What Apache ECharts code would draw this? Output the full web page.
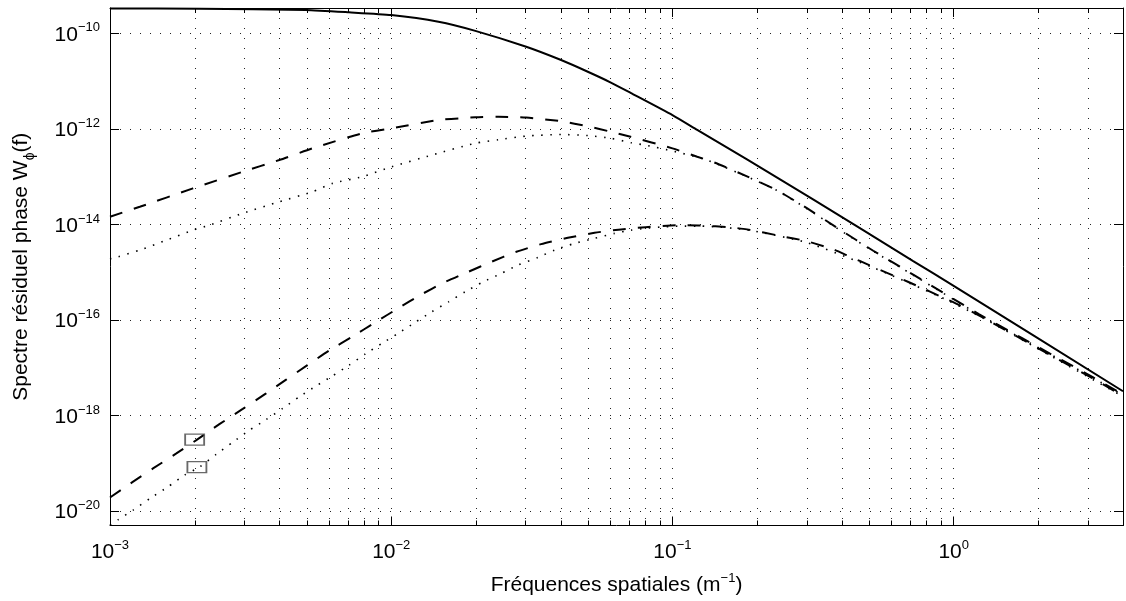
<!DOCTYPE html>
<html>
<head>
<meta charset="utf-8">
<script src="https://cdn.jsdelivr.net/npm/echarts@6/dist/echarts.min.js"></script>
<style>
  html, body { margin: 0; padding: 0; background: #fff; }
  #chart { width: 1126px; height: 601px; }
</style>
</head>
<body>
<div id="chart"></div>
<script>
// abscisses en log10(f), ordonnées en log10(W)
const X_MIN = -3
const X_MAX = Math.log10(4)
const Y_MIN = -20.30
const Y_MAX = -9.47

// spectre de phase (trait plein)
const solidF = [-3.0, -2.681, -2.304, -2.150, -2.0, -1.832, -1.701, -1.520, -1.396, -1.301, -1.219, -1.149, -1.0, -0.912, -0.735, -0.5, -0.144, 0.0, 0.602]
const solidW = [-9.481, -9.485, -9.512, -9.560, -9.617, -9.757, -9.948, -10.281, -10.559, -10.804, -11.03, -11.245, -11.710, -12.02, -12.64, -13.475, -14.767, -15.284, -17.49]

// résidu haut, tirets
const dashHiF = [-3.0, -2.894, -2.705, -2.528, -2.398, -2.280, -2.103, -2.0, -1.832, -1.701, -1.619, -1.520, -1.396, -1.301, -1.219, -1.149, -1.0, -0.912, -0.852, -0.735, -0.628, -0.522, -0.404, -0.286, -0.144, -0.003, 0.091, 0.245, 0.363, 0.493, 0.602]
const dashHiW = [-13.839, -13.630, -13.245, -12.897, -12.652, -12.407, -12.093, -11.989, -11.815, -11.758, -11.746, -11.763, -11.840, -11.947, -12.060, -12.165, -12.407, -12.583, -12.70, -12.994, -13.287, -13.66, -14.11, -14.55, -15.05, -15.55, -15.88, -16.385, -16.770, -17.189, -17.561]

// résidu haut, pointillés
const dotHiF = [-3.0, -2.971, -2.894, -2.799, -2.705, -2.646, -2.528, -2.398, -2.280, -2.209, -2.103, -1.998, -1.856, -1.703, -1.619, -1.520, -1.395, -1.301, -1.218, -1.147, -1.088, -1.0, -0.912, -0.852, -0.735, -0.628, -0.522, -0.404, -0.286, -0.144, -0.003, 0.091, 0.245, 0.363, 0.493, 0.602]
const dotHiW = [-14.72, -14.677, -14.536, -14.327, -14.118, -14.013, -13.768, -13.525, -13.316, -13.140, -13.002, -12.793, -12.548, -12.303, -12.227, -12.150, -12.118, -12.139, -12.198, -12.290, -12.349, -12.464, -12.589, -12.71, -13.00, -13.29, -13.67, -14.12, -14.56, -15.06, -15.56, -15.89, -16.396, -16.78, -17.20, -17.572]

// résidu bas, tirets
const dashLoF = [-3.0, -2.919, -2.847, -2.764, -2.693, -2.611, -2.528, -2.445, -2.375, -2.298, -2.221, -2.139, -2.056, -1.973, -1.897, -1.814, -1.726, -1.643, -1.555, -1.467, -1.372, -1.277, -1.183, -1.095, -0.988, -0.900, -0.794, -0.735, -0.617, -0.522, -0.428, -0.381, -0.287, -0.204, -0.122, -0.050, 0.020, 0.091, 0.245, 0.363, 0.493, 0.602]
const dashLoW = [-19.713, -19.387, -19.106, -18.792, -18.514, -18.18, -17.860, -17.536, -17.253, -16.944, -16.640, -16.351, -16.045, -15.745, -15.478, -15.220, -14.991, -14.78, -14.572, -14.411, -14.280, -14.174, -14.103, -14.058, -14.017, -14.023, -14.061, -14.103, -14.240, -14.35, -14.522, -14.641, -14.886, -15.095, -15.305, -15.499, -15.688, -15.907, -16.410, -16.797, -17.216, -17.593]

// résidu bas, pointillés
const dotLoF = [-3.0, -2.971, -2.918, -2.858, -2.794, -2.735, -2.681, -2.622, -2.564, -2.504, -2.445, -2.386, -2.327, -2.268, -2.209, -2.150, -2.092, -2.033, -1.973, -1.914, -1.856, -1.796, -1.737, -1.673, -1.608, -1.549, -1.478, -1.419, -1.348, -1.277, -1.206, -1.147, -1.088, -1.029, -0.971, -0.900, -0.735, -0.522, -0.286, -0.050, 0.091, 0.245, 0.602]
const dotLoW = [-20.29, -20.178, -19.979, -19.734, -19.491, -19.246, -19.073, -18.810, -18.560, -18.304, -18.085, -17.850, -17.607, -17.383, -17.170, -16.944, -16.710, -16.489, -16.270, -16.045, -15.828, -15.619, -15.409, -15.200, -15.024, -14.850, -14.689, -14.536, -14.396, -14.291, -14.187, -14.118, -14.076, -14.049, -14.034, -14.034, -14.113, -14.379, -14.903, -15.510, -15.917, -16.420, -17.60]

// petits rectangles à f = 2e-3
const boxF = [-2.699, -2.691]
const boxW = [-18.503, -19.079]

// graduations mineures de l'axe log des fréquences
const decades = [-3, -2, -1, 0]
const mults = [2, 3, 4, 5, 6, 7, 8, 9]

const FONT = '"Liberation Sans", Arial, Helvetica, sans-serif'
const minorF = []
decades.forEach((d) => {
  mults.forEach((k) => {
    const v = d + Math.log10(k)
    if (v < X_MAX - 1e-3) minorF.push([v, Y_MIN])
  })
})

function isInt(v) {
  return Math.abs(v - Math.round(v)) < 1e-6
}
function powLabel(v) {
  if (!isInt(v)) return ''
  const n = Math.round(v)
  return '{b|10}{s|' + (n < 0 ? '\u2212' + -n : n) + '}'
}
const powRich = {
  b: { fontFamily: FONT, fontSize: 21, lineHeight: 24, verticalAlign: 'bottom', color: '#000' },
  s: { fontFamily: FONT, fontSize: 13, lineHeight: 13, verticalAlign: 'top', color: '#000' }
}
const gridDots = { color: '#222', width: 1, type: [1, 9] }

function curve(xs, ys, type, width) {
  return {
    type: 'line',
    data: xs.map((x, i) => [x, ys[i]]),
    symbol: 'none',
    smooth: 0.2,
    silent: true,
    z: 4,
    lineStyle: { color: '#000', width: width, type: type }
  }
}

function renderMinor(params, api) {
  const cs = params.coordSys
  const x = Math.round(api.coord([api.value(0), Y_MIN])[0]) + 0.5
  const top = cs.y
  const bot = cs.y + cs.height
  return {
    type: 'group',
    children: [
      { type: 'line', shape: { x1: x, y1: top, x2: x, y2: bot }, style: { stroke: '#222', lineWidth: 1, lineDash: [1, 9] } },
      { type: 'line', shape: { x1: x, y1: top, x2: x, y2: top + 5 }, style: { stroke: '#000', lineWidth: 1 } },
      { type: 'line', shape: { x1: x, y1: bot - 5, x2: x, y2: bot }, style: { stroke: '#000', lineWidth: 1 } }
    ]
  }
}

const chart = echarts.init(document.getElementById('chart'))
const xBase = {
  type: 'value',
  min: X_MIN,
  max: X_MAX,
  splitNumber: 4,
  axisLine: { onZero: false, lineStyle: { color: '#000', width: 1 } },
  axisTick: { inside: true, length: 9, lineStyle: { color: '#000' } }
}
const yBase = {
  type: 'value',
  min: Y_MIN,
  max: Y_MAX,
  splitNumber: 5,
  axisLine: { onZero: false, lineStyle: { color: '#000', width: 1 } },
  axisTick: { inside: true, length: 9, lineStyle: { color: '#000' } }
}

const option = {
  animation: false,
  backgroundColor: '#fff',
  grid: { left: 110, top: 8, width: 1017.6, height: 517.5 },
  xAxis: [
    Object.assign({}, xBase, {
      position: 'bottom',
      name: '{n|Fréquences spatiales (m}{s|\u22121}{n|)}',
      nameLocation: 'middle',
      nameGap: 46,
      nameTextStyle: {
        rich: {
          n: { fontFamily: FONT, fontSize: 21, lineHeight: 24, verticalAlign: 'bottom', color: '#000' },
          s: { fontFamily: FONT, fontSize: 13, lineHeight: 13, verticalAlign: 'top', color: '#000' }
        }
      },
      axisLabel: { margin: 13, formatter: powLabel, rich: powRich },
      splitLine: { show: true, lineStyle: gridDots }
    }),
    Object.assign({}, xBase, {
      position: 'top',
      axisLabel: { show: false },
      splitLine: { show: false }
    })
  ],
  yAxis: [
    Object.assign({}, yBase, {
      position: 'left',
      name: '{n|Spectre résiduel phase W}{p|\u03d5}{n|(f)}',
      nameLocation: 'middle',
      nameGap: 73,
      nameTextStyle: {
        rich: {
          n: { fontFamily: FONT, fontSize: 21, lineHeight: 26, verticalAlign: 'top', color: '#000' },
          p: { fontFamily: FONT, fontSize: 14, lineHeight: 14, verticalAlign: 'bottom', color: '#000' }
        }
      },
      axisLabel: { margin: 10, formatter: powLabel, rich: powRich },
      splitLine: { show: true, lineStyle: gridDots }
    }),
    Object.assign({}, yBase, {
      position: 'right',
      axisLabel: { show: false },
      splitLine: { show: false }
    })
  ],
  series: [
    {
      type: 'custom',
      data: minorF,
      renderItem: renderMinor,
      silent: true,
      z: 1
    },
    curve(solidF, solidW, 'solid', 2),
    curve(dashHiF, dashHiW, [13, 12], 2),
    curve(dotHiF, dotHiW, [1.5, 7.5], 1.6),
    curve(dashLoF, dashLoW, [13, 12], 2),
    curve(dotLoF, dotLoW, [1.5, 7.5], 1.6),
    {
      type: 'scatter',
      data: boxF.map((x, i) => [x, boxW[i]]),
      symbol: 'rect',
      symbolSize: [19, 11],
      silent: true,
      z: 5,
      itemStyle: { color: 'rgba(0,0,0,0)', borderColor: '#444', borderWidth: 1.4 }
    }
  ]
}
chart.setOption(option)
</script>
</body>
</html>
